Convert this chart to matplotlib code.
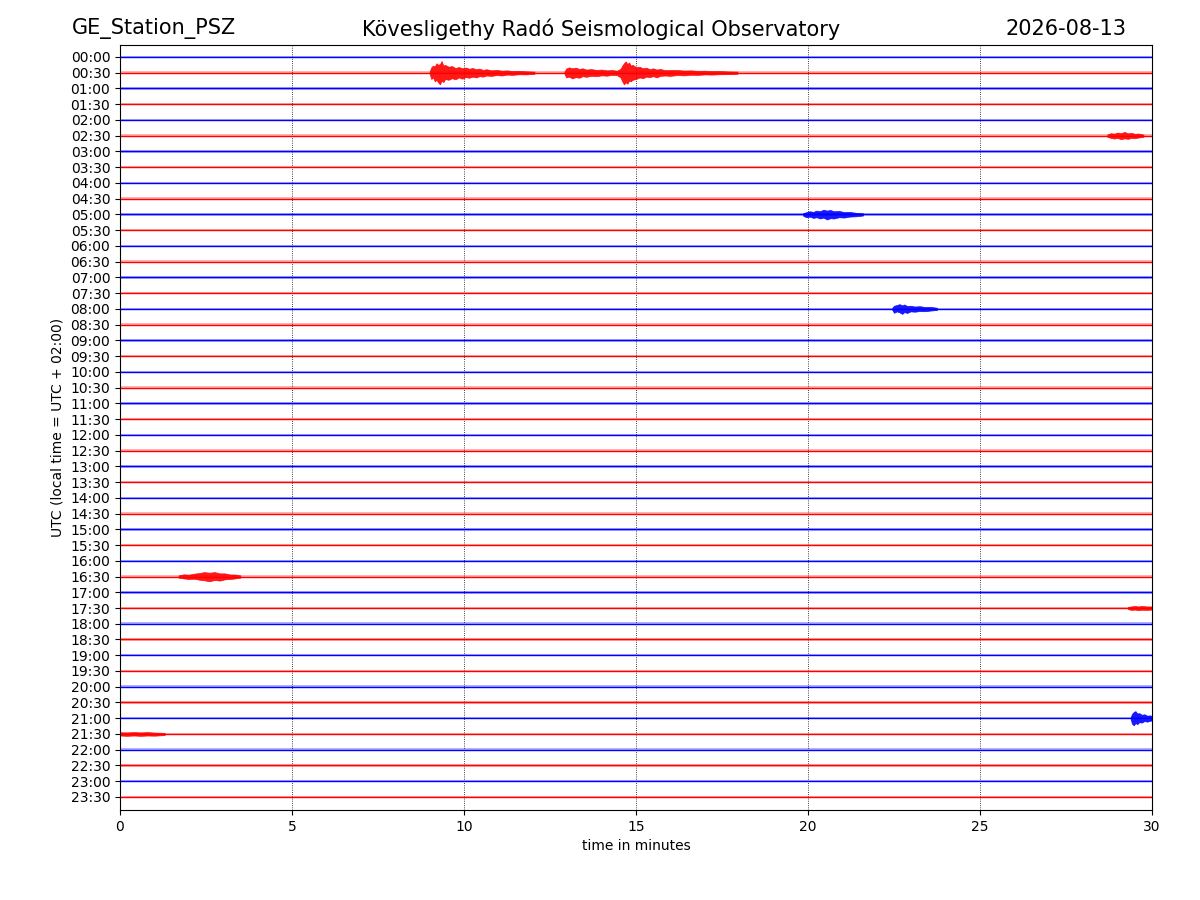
import matplotlib
matplotlib.use("Agg")
import matplotlib.pyplot as plt

# ---------------- data ----------------
row_labels = [f"{h:02d}:{m:02d}" for h in range(24) for m in (0, 30)]
row_colors = ["#0000ff", "#ff0000"]          # alternating trace colours
x_min, x_max = 0, 30                          # minutes per row
x_ticks = [0, 5, 10, 15, 20, 25, 30]

# background noise half-width of each trace (in row units)
noise_level = [0.08] * 48

# seismic events: row, envelope times (min), upper and lower half-amplitudes (row units)
event_row = ["00:30", "00:30", "02:30", "05:00", "08:00", "16:30", "17:30", "21:00", "21:30"]
event_t = [
    [9.00, 9.05, 9.10, 9.15, 9.20, 9.25, 9.30, 9.35, 9.40, 9.45, 9.55, 9.65, 9.75, 9.85, 9.95,
     10.05, 10.15, 10.25, 10.35, 10.45, 10.55, 10.65, 10.8, 10.95, 11.1, 11.25, 11.4, 11.6, 11.8, 12.05],
    [12.92, 12.97, 13.05, 13.15, 13.25, 13.35, 13.45, 13.55, 13.7, 13.85, 14.0, 14.15, 14.3, 14.45,
     14.55, 14.6, 14.65, 14.7, 14.75, 14.8, 14.85, 14.9, 15.0, 15.1, 15.2, 15.3, 15.4, 15.5, 15.6,
     15.7, 15.85, 16.0, 16.2, 16.4, 16.6, 16.8, 17.0, 17.2, 17.4, 17.7, 17.95],
    [28.7, 28.8, 28.9, 29.0, 29.1, 29.2, 29.3, 29.4, 29.5, 29.6, 29.75],
    [19.85, 19.95, 20.05, 20.15, 20.25, 20.35, 20.45, 20.55, 20.65, 20.75, 20.9, 21.05, 21.2, 21.4, 21.6],
    [22.45, 22.5, 22.58, 22.66, 22.74, 22.8, 22.88, 22.98, 23.1, 23.25, 23.4, 23.55, 23.75],
    [1.7, 1.85, 2.0, 2.15, 2.3, 2.45, 2.6, 2.75, 2.9, 3.05, 3.2, 3.35, 3.5],
    [29.3, 29.4, 29.5, 29.6, 29.7, 29.85, 30.0],
    [29.38, 29.42, 29.47, 29.52, 29.57, 29.63, 29.7, 29.78, 29.86, 29.94, 30.0],
    [0.0, 0.2, 0.4, 0.6, 0.8, 1.0, 1.3],
]
event_up = [
    [0.07, 0.40, 0.30, 0.55, 0.45, 0.62, 0.74, 0.50, 0.60, 0.40, 0.45, 0.35, 0.42, 0.30, 0.38,
     0.28, 0.32, 0.25, 0.30, 0.22, 0.25, 0.18, 0.20, 0.15, 0.18, 0.12, 0.14, 0.10, 0.11, 0.07],
    [0.07, 0.30, 0.25, 0.36, 0.28, 0.32, 0.22, 0.26, 0.20, 0.22, 0.17, 0.19, 0.14, 0.16,
     0.30, 0.55, 0.74, 0.60, 0.70, 0.50, 0.55, 0.45, 0.40, 0.30, 0.35, 0.25, 0.28, 0.22, 0.30,
     0.20, 0.18, 0.20, 0.15, 0.17, 0.13, 0.14, 0.11, 0.12, 0.10, 0.09, 0.07],
    [0.07, 0.14, 0.18, 0.15, 0.22, 0.17, 0.20, 0.14, 0.16, 0.12, 0.07],
    [0.07, 0.18, 0.14, 0.22, 0.18, 0.26, 0.20, 0.32, 0.24, 0.26, 0.18, 0.20, 0.14, 0.12, 0.07],
    [0.07, 0.25, 0.16, 0.22, 0.32, 0.20, 0.26, 0.16, 0.18, 0.14, 0.15, 0.11, 0.07],
    [0.07, 0.12, 0.16, 0.14, 0.20, 0.24, 0.30, 0.22, 0.26, 0.18, 0.16, 0.12, 0.07],
    [0.07, 0.12, 0.10, 0.14, 0.11, 0.12, 0.10],
    [0.07, 0.35, 0.45, 0.30, 0.38, 0.25, 0.28, 0.18, 0.22, 0.16, 0.15],
    [0.10, 0.12, 0.10, 0.12, 0.10, 0.11, 0.07],
]
event_lo = [
    [0.07, 0.35, 0.45, 0.40, 0.60, 0.50, 0.55, 0.74, 0.45, 0.50, 0.38, 0.42, 0.30, 0.36, 0.28,
     0.33, 0.25, 0.30, 0.22, 0.26, 0.18, 0.22, 0.15, 0.18, 0.13, 0.15, 0.11, 0.12, 0.09, 0.07],
    [0.07, 0.26, 0.34, 0.28, 0.32, 0.24, 0.28, 0.20, 0.23, 0.18, 0.20, 0.15, 0.17, 0.13,
     0.25, 0.45, 0.60, 0.72, 0.55, 0.65, 0.45, 0.50, 0.35, 0.38, 0.28, 0.32, 0.22, 0.28, 0.20,
     0.24, 0.16, 0.18, 0.17, 0.14, 0.15, 0.12, 0.13, 0.10, 0.11, 0.08, 0.07],
    [0.07, 0.16, 0.13, 0.20, 0.16, 0.24, 0.15, 0.18, 0.12, 0.14, 0.07],
    [0.07, 0.14, 0.20, 0.16, 0.24, 0.20, 0.30, 0.24, 0.28, 0.20, 0.22, 0.15, 0.16, 0.10, 0.07],
    [0.07, 0.20, 0.24, 0.30, 0.22, 0.28, 0.18, 0.20, 0.15, 0.17, 0.12, 0.13, 0.07],
    [0.07, 0.14, 0.12, 0.18, 0.22, 0.28, 0.24, 0.28, 0.20, 0.20, 0.13, 0.13, 0.07],
    [0.07, 0.10, 0.13, 0.10, 0.13, 0.10, 0.10],
    [0.07, 0.28, 0.40, 0.45, 0.30, 0.32, 0.22, 0.25, 0.16, 0.18, 0.15],
    [0.11, 0.10, 0.12, 0.10, 0.12, 0.09, 0.07],
]

# ---------------- plot ----------------
fig = plt.figure(figsize=(12, 9), dpi=100)
ax = fig.add_axes([0.1, 0.1, 0.86, 0.85])

for i, lab in enumerate(row_labels):
    c = row_colors[i % 2]
    nl = noise_level[i]
    ax.fill_between([x_min, x_max], [i - nl] * 2, [i + nl] * 2, color=c, alpha=0.3, lw=0)
    ax.plot([x_min, x_max], [i, i], color=c, lw=1.0)

for lab, ts, up, lo in zip(event_row, event_t, event_up, event_lo):
    i = row_labels.index(lab)
    c = row_colors[i % 2]
    ax.fill_between(ts, [i - a for a in lo], [i + a for a in up],
                    color=c, alpha=0.9, lw=0.5, edgecolor=c)

for xv in x_ticks[1:-1]:
    ax.axvline(xv, color="black", lw=0.6, ls=":", zorder=0.5)

ax.set_xlim(x_min, x_max)
ax.set_ylim(47.83, -0.76)
ax.set_xticks(x_ticks)
ax.set_yticks(range(len(row_labels)))
ax.set_yticklabels(row_labels)
ax.set_xlabel("time in minutes")
ax.set_ylabel("UTC (local time = UTC + 02:00)")

fig.text(0.06, 0.968, "GE_Station_PSZ", fontsize=15, ha="left", va="center")
fig.text(0.501, 0.968, "Kövesligethy Radó Seismological Observatory", fontsize=15, ha="center", va="center")
fig.text(0.939, 0.968, "2026-08-13", fontsize=15, ha="right", va="center")

fig.savefig("out.png", dpi=100)
